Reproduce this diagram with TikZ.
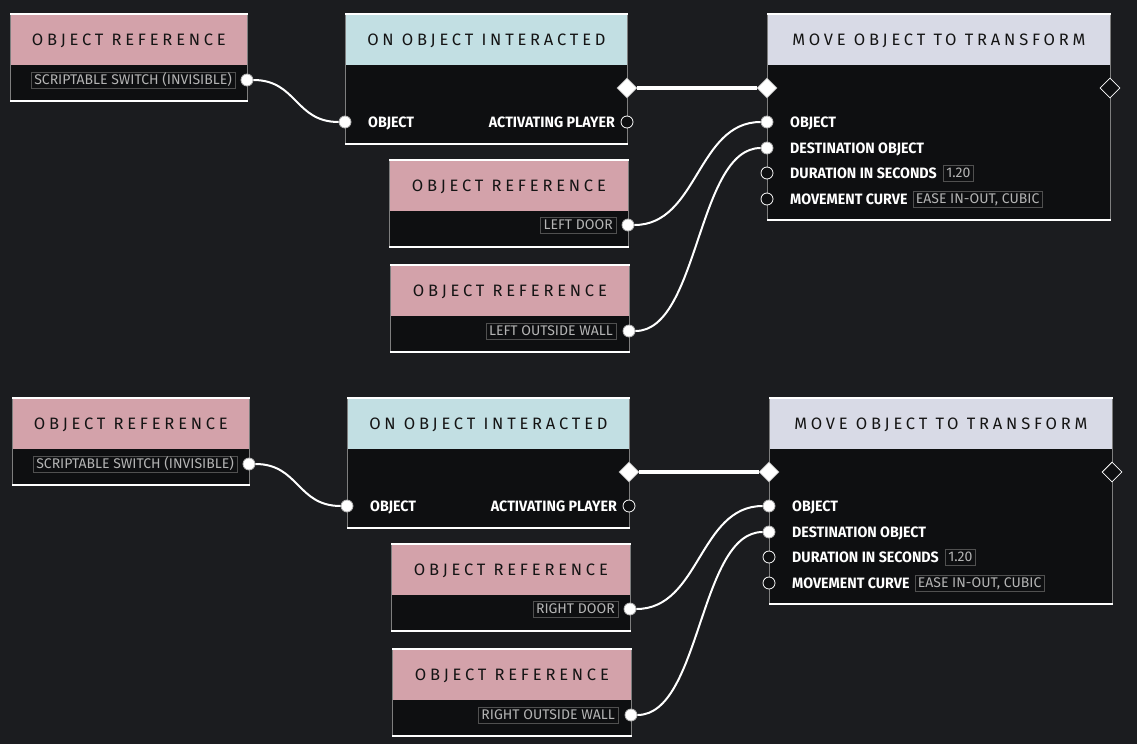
\documentclass[tikz,border=0pt]{standalone}
\usepackage{fontspec}
\setmainfont{Fira Sans}
\newfontfamily\headfont[LetterSpace=23]{Fira Sans}
\newfontfamily\pinfont[FakeStretch=0.95]{Fira Sans}
\usepackage{tikz}
\usetikzlibrary{shapes.geometric,positioning}

\definecolor{canvas}{HTML}{1B1C1F}
\definecolor{bodyfill}{HTML}{0E0F11}
\definecolor{refpink}{HTML}{D3A2AA}
\definecolor{eventblue}{HTML}{C2DFE3}
\definecolor{actionlilac}{HTML}{D8DAE6}
\definecolor{framegray}{HTML}{7E7E7E}
\definecolor{valgray}{HTML}{B4B4B4}
\definecolor{valline}{HTML}{505050}

\tikzset{
  body/.style={
    rectangle,
    anchor=north west,
    inner sep=0pt,
    fill=bodyfill,
    draw=framegray,
    line width=0.8pt
    },
  head/.style={
    rectangle,
    anchor=north,
    inner sep=0pt,
    minimum height=50pt,
    text height=11.4pt,
    text depth=0pt,
    fill=#1,
    text=black!92,
    font=\headfont\fontsize{16.5}{18}\selectfont
    },
  rim/.style={draw=white, line width=1.4pt},
  pinon/.style={circle, minimum size=12pt, inner sep=0pt, fill=white, draw=white!70!black, line width=0.8pt},
  pinoff/.style={circle, minimum size=12pt, inner sep=0pt, fill=bodyfill, draw=white, line width=0.8pt},
  flowon/.style={diamond, minimum width=20pt, minimum height=20pt, inner sep=0pt, fill=white, draw=white!70!black, line width=0.8pt},
  flowoff/.style={diamond, minimum width=20pt, minimum height=20pt, inner sep=0pt, fill=bodyfill, draw=white, line width=0.8pt},
  pinlabel/.style={
    inner sep=0pt,
    text height=10.4pt,
    text depth=0pt,
    text=white,
    font=\pinfont\bfseries\fontsize{15}{17}\selectfont
    },
  value/.style={
    inner xsep=3pt,
    inner ysep=3.5pt,
    text height=9.6pt,
    text depth=0pt,
    draw=valline,
    text=valgray,
    font=\fontsize{14}{16}\selectfont
    },
  wire/.style={draw=white, line width=2pt},
  flow/.style={draw=white, line width=4pt},
}

% name, x, y, width, height, colour, title
\newcommand\gblock[7]{%
  \node[body, minimum width=#4pt, minimum height=#5pt] (#1) at (#2,#3) {};
  \node[head=#6, minimum width=#4pt-1.6pt] (#1head) at ([yshift=-0.8pt]#1.north) {#7};
  \draw[rim] (#1.north west) -- (#1.north east) (#1.south west) -- (#1.south east);
}

\begin{document}
\begin{tikzpicture}[x=1pt, y=-1pt]
  \useasboundingbox[fill=canvas] (0,0) rectangle (1137,744);

  \foreach \g/\side [count=\i from 0] in {A/LEFT, B/RIGHT}{
  \begin{scope}[shift={(2*\i,384*\i)}]
    % blocks
    \gblock{ref\g}{10}{14}{237}{86}{refpink}{OBJECT REFERENCE}
    \gblock{ooi\g}{345}{14}{282}{129}{eventblue}{ON OBJECT INTERACTED}
    \gblock{mot\g}{767}{14}{343}{205}{actionlilac}{MOVE OBJECT TO TRANSFORM}
    \gblock{door\g}{389}{160}{239}{86}{refpink}{OBJECT REFERENCE}
    \gblock{wall\g}{390}{265}{239}{86}{refpink}{OBJECT REFERENCE}

    % pins
    \node[pinon] (ref\g out) at (247,80) {};
    \node[pinon] (ooi\g in) at (345,122) {};
    \node[pinoff] (ooi\g player) at (627,122) {};
    \node[flowon] (ooi\g next) at (627,88) {};
    \node[flowon] (mot\g prev) at (767,88) {};
    \node[flowoff] (mot\g next) at (1110,88) {};
    \node[pinon] (mot\g objpin) at (767,122) {};
    \node[pinon] (mot\g dstpin) at (767,148) {};
    \node[pinoff] (mot\g durpin) at (767,173) {};
    \node[pinoff] (mot\g crvpin) at (767,199) {};
    \node[pinon] (door\g out) at (628,225) {};
    \node[pinon] (wall\g out) at (629,331) {};

    % labels
    \node[value, anchor=east] at ([xshift=-12pt]ref\g out.center) {SCRIPTABLE SWITCH (INVISIBLE)};
    \node[value, anchor=east] at ([xshift=-12pt]door\g out.center) {\side{} DOOR};
    \node[value, anchor=east] at ([xshift=-13pt]wall\g out.center) {\side{} OUTSIDE WALL};
    \node[pinlabel, anchor=west] at (368,122) {OBJECT};
    \node[pinlabel, anchor=east] at (615,122) {ACTIVATING PLAYER};
    \node[pinlabel, anchor=west] at (790,122) {OBJECT};
    \node[pinlabel, anchor=west] at (790,148) {DESTINATION OBJECT};
    \node[pinlabel, anchor=west] (mot\g dur) at (790,173) {DURATION IN SECONDS};
    \node[value, right=6pt of mot\g dur] {1.20};
    \node[pinlabel, anchor=west] (mot\g crv) at (790,199) {MOVEMENT CURVE};
    \node[value, right=5pt of mot\g crv] {EASE IN-OUT, CUBIC};

    % connectors
    \draw[flow] (ooi\g next) -- (mot\g prev);
    \draw[wire] (ref\g out) .. controls +(50,0) and +(-50,0) .. (ooi\g in);
    \draw[wire] (door\g out) .. controls +(70,0) and +(-70,0) .. (mot\g objpin);
    \draw[wire] (wall\g out) .. controls +(70,0) and +(-70,0) .. (mot\g dstpin);
  \end{scope}}
\end{tikzpicture}
\end{document}
